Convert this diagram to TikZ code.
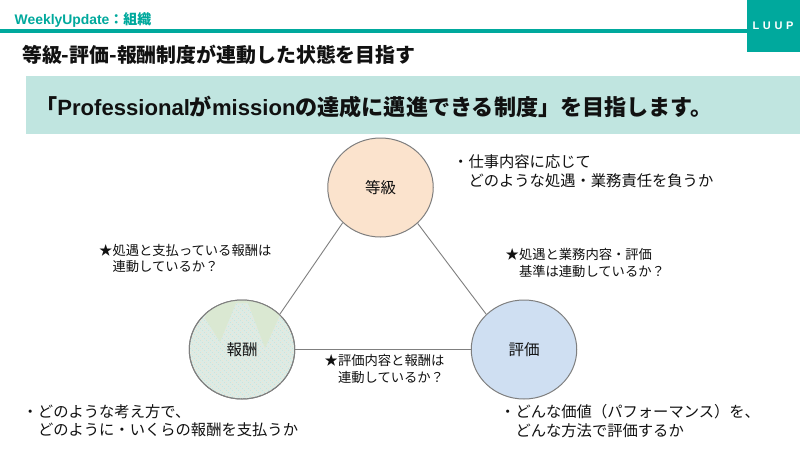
\documentclass[tikz,border=0pt]{standalone}
\usepackage{fontspec}
\setmainfont{Liberation Sans}
\newfontfamily\jp{Noto Sans CJK JP}
\usetikzlibrary{shapes.geometric}
\definecolor{teal}{HTML}{00A99D}
\definecolor{band}{HTML}{C0E5E0}
\definecolor{peach}{HTML}{FBE3CD}
\definecolor{bluec}{HTML}{CFDFF2}
\definecolor{greenc}{HTML}{DAE8D2}
\definecolor{ringc}{HTML}{7F7F7F}
\definecolor{ink}{HTML}{111111}
\definecolor{dota}{HTML}{C8E4DF}
\definecolor{dotb}{HTML}{EFE3D3}
\definecolor{dotc}{HTML}{DDEBE4}
\tikzset{
  x=1pt,y=-1pt,
  ball/.style={ellipse,draw=ringc,line width=1pt,minimum width=105.5pt,minimum height=99pt,inner sep=0pt,text=ink,font=\jp\fontsize{15.5}{18}\selectfont},
  link/.style={draw=ringc,line width=.9pt},
  note/.style={anchor=west,align=left,text=ink,inner sep=0pt,font=\jp\fontsize{15.3}{18.5}\selectfont},
  small/.style={anchor=west,align=left,text=ink,inner sep=0pt,font=\jp\fontsize{13.3}{16.2}\selectfont}
}
\begin{document}
\begin{tikzpicture}
\useasboundingbox (0,0) rectangle (800,450);
\fill[white] (0,0) rectangle (800,450);
\fill[teal] (0,29.3) rectangle (747,32.7);
\fill[teal] (746.7,0) rectangle (800,52);
\node[anchor=center,text=white,inner sep=0pt,font=\bfseries\fontsize{11}{12}\selectfont] (logo) at (773,25.7) {L\,\,U\,\,U\,\,P};
\node[anchor=west,text=teal,inner sep=0pt,font=\bfseries\fontsize{13.9}{15}\selectfont] (hdr) at (14.5,19.5) {WeeklyUpdate{\jp：組織}};
\node[anchor=west,text=ink,inner sep=0pt,font=\jp\bfseries\fontsize{19.9}{22}\selectfont] (ttl) at (22,55) {等級-評価-報酬制度が連動した状態を目指す};
\fill[band] (26,76) rectangle (800,134);
\node[anchor=west,text=ink,inner sep=0pt,font=\bfseries\fontsize{22.1}{26}\selectfont] (msg) at (35,107) {{\jp「}Professional{\jp が}mission{\jp の達成に邁進できる制度」を目指します。}};
\node[ball,fill=peach] (a) at (380.5,187.5) {等級};
\node[ball,fill=dotc] (b0) at (242,349.5) {};
\begin{scope}
\clip (242,349.5) ellipse [x radius=52.7, y radius=49.4];
\foreach \i in {0,...,54}{\foreach \j in {0,...,52}{
  \pgfmathsetmacro{\cx}{188+2*\i}\pgfmathsetmacro{\cy}{298+2*\j}
  \pgfmathtruncatemacro{\m}{mod(\i+2*\j,3)}
  \ifnum\m=0 \fill[dota] (\cx,\cy) rectangle ++(1.3,1.3);\fi
  \ifnum\m=1 \fill[dotb] (\cx,\cy) rectangle ++(1.3,1.3);\fi
}}
\fill[greenc] (205,318) -- (220,342) -- (236,303) -- (248,303) -- (265,348) -- (280,315) -- (275,298) -- (210,298) -- cycle;
\end{scope}
\node[ball] (b) at (242,349.5) {報酬};
\node[ball,fill=bluec] (c) at (524,349.5) {評価};
\draw[link] (a.223.4) -- (b.43.8);
\draw[link] (a.316.6) -- (c.137);
\draw[link] (b.east) -- (c.west);
\node[note] (n1) at (453,171) {・仕事内容に応じて\\\phantom{・}どのような処遇・業務責任を負うか};
\node[note] (n2) at (22.5,420.5) {・どのような考え方で、\\\phantom{・}どのように・いくらの報酬を支払うか};
\node[note] (n3) at (500,421) {・どんな価値（パフォーマンス）を、\\\phantom{・}どんな方法で評価するか};
\node[small] (s1) at (99,258.7) {★処遇と支払っている報酬は\\\phantom{★}連動しているか？};
\node[small] (s2) at (505.5,263) {★処遇と業務内容・評価\\\phantom{★}基準は連動しているか？};
\node[small] (s3) at (324.5,369) {★評価内容と報酬は\\\phantom{★}連動しているか？};
\end{tikzpicture}
\end{document}
